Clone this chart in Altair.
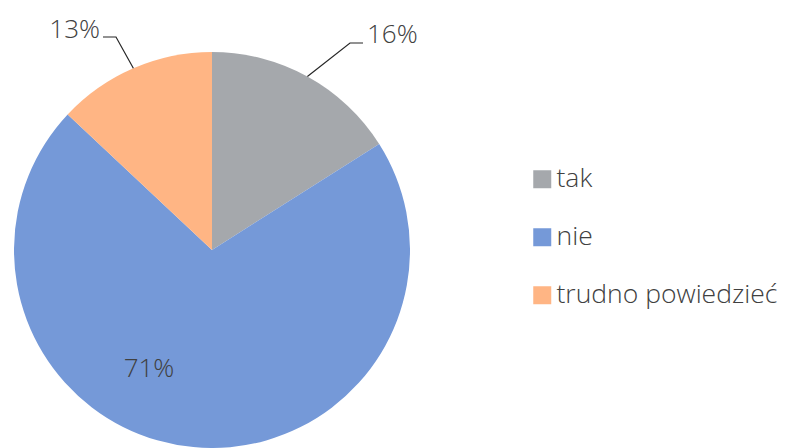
import math
import altair as alt
import pandas as pd

# ---- data ----
categories = ["tak", "nie", "trudno powiedzieć"]
values = [16, 71, 13]
labels = ["16%", "71%", "13%"]
colors = ["#A5A8AC", "#7599D8", "#FFB584"]

# ---- layout constants ----
W, H = 774, 440
CX, CY, R = 204, 242, 198
FONT = "Open Sans"
TXT = "#404040"

df = pd.DataFrame({"cat": categories, "val": values, "idx": range(len(values)), "lab": labels})

# leader lines start at slice edge on its mid angle
total = sum(values)
cum = 0
edges = {}
for c, v in zip(categories, values):
    mid = (cum + v / 2) / total * 2 * math.pi
    edges[c] = (CX + R * math.sin(mid), CY - R * math.cos(mid))
    cum += v

lines = pd.DataFrame([
    {"g": "tak", "o": 0, "px": edges["tak"][0], "py": edges["tak"][1]},
    {"g": "tak", "o": 1, "px": 342, "py": 35},
    {"g": "tak", "o": 2, "px": 355, "py": 35},
    {"g": "tr", "o": 0, "px": edges["trudno powiedzieć"][0], "py": edges["trudno powiedzieć"][1]},
    {"g": "tr", "o": 1, "px": 108, "py": 29},
    {"g": "tr", "o": 2, "px": 95, "py": 29},
])

label_pos = pd.DataFrame({
    "lab": labels,
    "px": [359, 141, 92],
    "py": [35, 369, 30],
    "al": ["left", "center", "right"],
})

base = alt.Chart(df)

pie = base.mark_arc(radius=R).encode(
    theta=alt.Theta("val:Q", stack=True),
    order=alt.Order("idx:Q"),
    color=alt.Color(
        "cat:N",
        scale=alt.Scale(domain=categories, range=colors),
        sort=categories,
        legend=alt.Legend(
            title=None,
            orient="none",
            legendX=521,
            legendY=158,
            padding=0,
            symbolType="square",
            symbolSize=324,
            symbolStrokeWidth=0,
            labelFontSize=26.5,
            labelFont=FONT,
            labelFontWeight=300,
            labelColor=TXT,
            labelOffset=1,
            rowPadding=31,
            labelLimit=400,
        ),
    ),
    x=alt.value(CX),
    y=alt.value(CY),
)

leader = alt.Chart(lines).mark_line(color="#262626", strokeWidth=1.2).encode(
    x=alt.X("px:Q", scale=None, axis=None),
    y=alt.Y("py:Q", scale=None, axis=None),
    detail="g:N",
    order="o:Q",
)

def text_layer(i):
    row = label_pos.iloc[[i]]
    return alt.Chart(row).mark_text(
        align=row["al"].iloc[0], baseline="alphabetic", font=FONT, fontWeight=300,
        fontSize=26, color=TXT
    ).encode(
        x=alt.X("px:Q", scale=None, axis=None),
        y=alt.Y("py:Q", scale=None, axis=None),
        text="lab:N",
    )

chart = alt.layer(pie, leader, text_layer(0), text_layer(1), text_layer(2)).properties(
    width=W, height=H, padding=0, background="white",
    autosize=alt.AutoSizeParams(type="none"),
).configure_view(stroke=None)

chart.save("out.html", embed_options={"renderer": "svg", "actions": False})
